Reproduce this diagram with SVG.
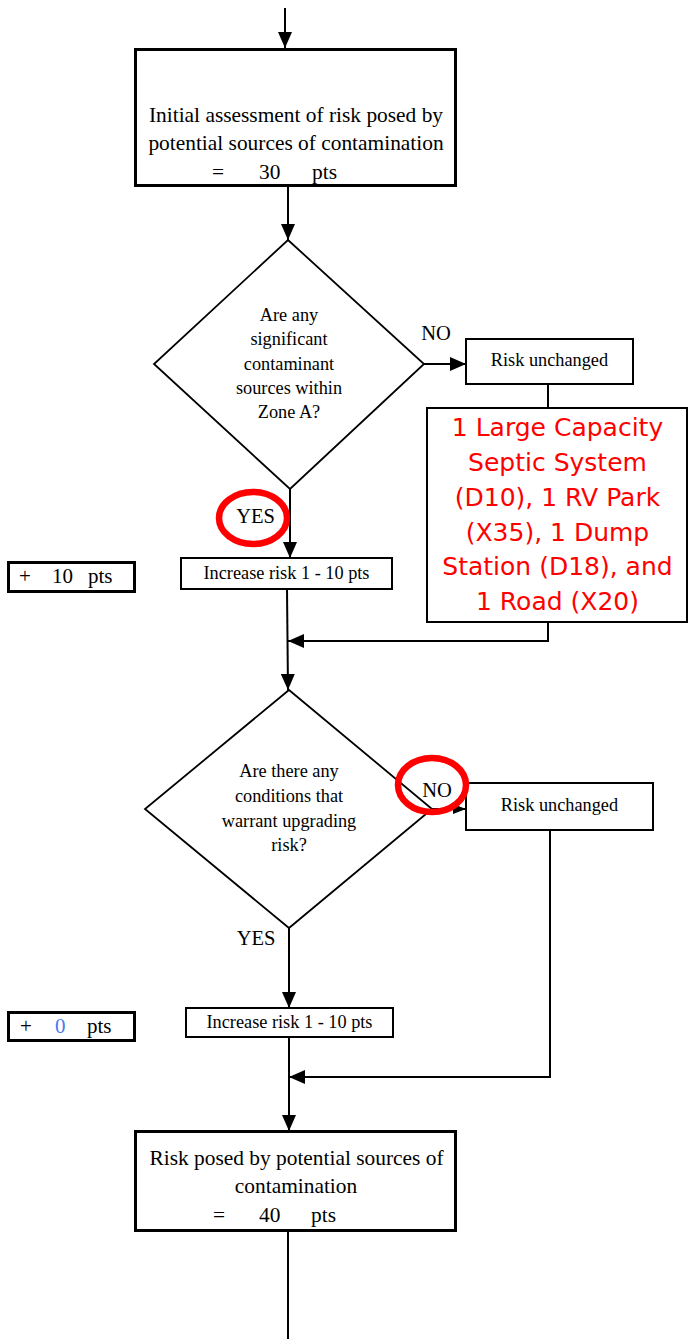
<svg xmlns="http://www.w3.org/2000/svg" width="688" height="1339" viewBox="0 0 688 1339">
<defs>
<style>
.t{font-family:"Liberation Serif","Times New Roman",serif;fill:#000}
.big{font-size:21.4px}
.sm{font-size:18.3px}
.lbl{font-size:20.5px}
.pts{font-size:21px}
.red{font-family:"DejaVu Sans",Verdana,sans-serif;font-size:25px;fill:#ff0000}
.bx{fill:#fff;stroke:#000;stroke-width:2}
.bbx{fill:#fff;stroke:#000;stroke-width:3}
.dm{fill:#fff;stroke:#000;stroke-width:1.8}
.cn{fill:none;stroke:#000;stroke-width:2}
.ring{fill:none;stroke:#ff0000;stroke-width:6.5}
</style>
<marker id="ah" markerUnits="userSpaceOnUse" markerWidth="16" markerHeight="14" refX="16" refY="7" orient="auto">
<path d="M0,0 L16,7 L0,14 z" fill="#000"/>
</marker>
<marker id="ahs" markerUnits="userSpaceOnUse" markerWidth="13" markerHeight="10" refX="13" refY="5" orient="auto">
<path d="M0,0 L13,5 L0,10 z" fill="#000"/>
</marker>
</defs>
<rect width="688" height="1339" fill="#fff"/>

<g id="connectors">
<line class="cn" x1="285" y1="8" x2="285" y2="48" marker-end="url(#ah)"/>
<line class="cn" x1="288" y1="186" x2="288" y2="240" marker-end="url(#ah)"/>
<line class="cn" x1="424" y1="364" x2="466" y2="364" marker-end="url(#ah)"/>
<line class="cn" x1="548" y1="384" x2="548" y2="408"/>
<polyline class="cn" points="548,622 548,641 288,641" marker-end="url(#ah)"/>
<line class="cn" x1="290" y1="489" x2="290" y2="558" marker-end="url(#ah)"/>
<line class="cn" x1="287" y1="589" x2="288" y2="690" marker-end="url(#ah)"/>
<line class="cn" x1="432" y1="809" x2="466" y2="809" marker-end="url(#ahs)"/>
<polyline class="cn" points="550,830 550,1077 289,1077" marker-end="url(#ah)"/>
<line class="cn" x1="289" y1="928" x2="289" y2="1008" marker-end="url(#ah)"/>
<line class="cn" x1="289" y1="1037" x2="289" y2="1131" marker-end="url(#ah)"/>
<line class="cn" x1="288" y1="1231" x2="288" y2="1339"/>
</g>

<g id="start-box">
<rect class="bbx" x="135.5" y="49.5" width="320" height="136"/>
<text class="t big" x="296" y="122" text-anchor="middle">Initial assessment of risk posed by</text>
<text class="t big" x="296" y="150" text-anchor="middle">potential sources of contamination</text>
<text class="t big" y="179"><tspan x="212">=</tspan><tspan x="259">30</tspan><tspan x="312">pts</tspan></text>
</g>

<g id="decision-1">
<polygon class="dm" points="288,240 424,364 290,489 154,364"/>
<text class="t sm" x="289" y="321" text-anchor="middle">Are any</text>
<text class="t sm" x="289" y="345" text-anchor="middle">significant</text>
<text class="t sm" x="289" y="370" text-anchor="middle">contaminant</text>
<text class="t sm" x="289" y="394" text-anchor="middle">sources within</text>
<text class="t sm" x="289" y="418" text-anchor="middle">Zone A?</text>
</g>

<g id="label-no-1">
<text class="t lbl" x="436" y="340" text-anchor="middle">NO</text>
</g>

<g id="unchanged-1">
<rect class="bx" x="466" y="339" width="167" height="45"/>
<text class="t sm" x="549.5" y="366" text-anchor="middle">Risk unchanged</text>
</g>

<g id="sources-note">
<rect class="bx" x="427" y="408" width="260" height="214"/>
<text class="red" x="557.5" y="436" text-anchor="middle">1 Large Capacity</text>
<text class="red" x="557.5" y="471" text-anchor="middle">Septic System</text>
<text class="red" x="557.5" y="506" text-anchor="middle">(D10), 1 RV Park</text>
<text class="red" x="557.5" y="541" text-anchor="middle">(X35), 1 Dump</text>
<text class="red" x="557.5" y="575" text-anchor="middle">Station (D18), and</text>
<text class="red" x="557.5" y="610" text-anchor="middle">1 Road (X20)</text>
</g>

<g id="label-yes-1">
<text class="t lbl" x="255.5" y="523" text-anchor="middle">YES</text>
</g>

<g id="increase-1">
<rect class="bx" x="181" y="558" width="211" height="31"/>
<text class="t sm" x="286.5" y="579" text-anchor="middle">Increase risk 1 - 10 pts</text>
</g>

<g id="points-1">
<rect class="bbx" x="8.5" y="562.5" width="126" height="29"/>
<text class="t pts" y="583"><tspan x="19">+</tspan><tspan x="52">10</tspan><tspan x="88">pts</tspan></text>
</g>

<g id="decision-2">
<polygon class="dm" points="289,690 432,809 289,928 145,809"/>
<text class="t sm" x="289" y="777" text-anchor="middle">Are there any</text>
<text class="t sm" x="289" y="802" text-anchor="middle">conditions that</text>
<text class="t sm" x="289" y="827" text-anchor="middle">warrant upgrading</text>
<text class="t sm" x="289" y="851" text-anchor="middle">risk?</text>
</g>

<g id="label-no-2">
<text class="t lbl" x="437" y="797" text-anchor="middle">NO</text>
</g>

<g id="unchanged-2">
<rect class="bx" x="466" y="783" width="187" height="47"/>
<text class="t sm" x="559.5" y="811" text-anchor="middle">Risk unchanged</text>
</g>

<g id="label-yes-2">
<text class="t lbl" x="256" y="945" text-anchor="middle">YES</text>
</g>

<g id="increase-2">
<rect class="bx" x="186" y="1008" width="207" height="29"/>
<text class="t sm" x="289.5" y="1028" text-anchor="middle">Increase risk 1 - 10 pts</text>
</g>

<g id="points-2">
<rect class="bbx" x="8.5" y="1012.5" width="126" height="28"/>
<text class="t pts" y="1033"><tspan x="20">+</tspan><tspan x="55" fill="#4a7bef">0</tspan><tspan x="87">pts</tspan></text>
</g>

<g id="end-box">
<rect class="bbx" x="135.5" y="1131.5" width="320" height="99"/>
<text class="t big" x="296.5" y="1165" text-anchor="middle">Risk posed by potential sources of</text>
<text class="t big" x="296" y="1193" text-anchor="middle">contamination</text>
<text class="t big" y="1222"><tspan x="213">=</tspan><tspan x="259">40</tspan><tspan x="311">pts</tspan></text>
</g>

<g id="highlights">
<ellipse class="ring" cx="253" cy="518" rx="34" ry="26"/>
<ellipse class="ring" cx="432" cy="785" rx="34" ry="27"/>
</g>
</svg>
